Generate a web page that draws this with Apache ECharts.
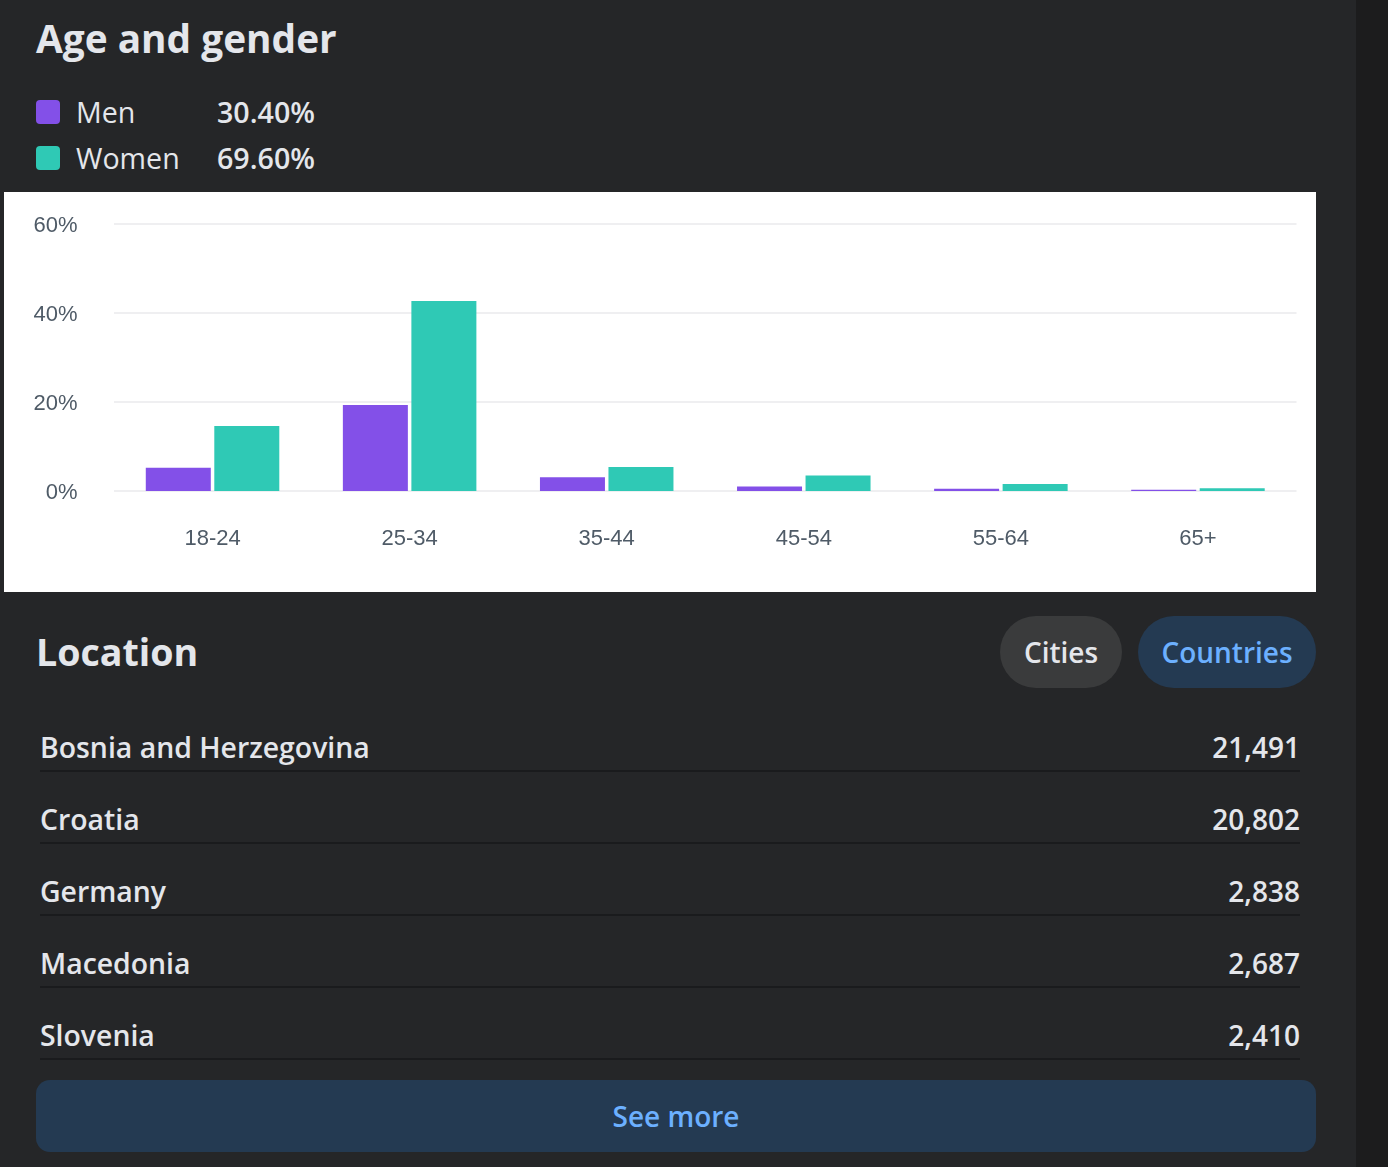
<!DOCTYPE html>
<html><head><meta charset="utf-8">
<script src="https://cdn.jsdelivr.net/npm/echarts@6/dist/echarts.min.js"></script>
<style>
html,body{margin:0;padding:0;width:1388px;height:1167px;overflow:hidden;background:#252628;font-family:"Open Sans","Noto Sans",sans-serif;color:#e4e6eb}
.t{position:absolute;white-space:nowrap;line-height:1}
#strip{position:absolute;left:1356px;top:0;width:32px;height:1167px;background:#1c1c1d}
#chart{position:absolute;left:4px;top:192px;width:1312px;height:400px;background:#fff}
.sw{position:absolute;left:36px;width:24px;height:24px;border-radius:4px}
.pill{position:absolute;top:616px;height:72px;border-radius:36px}
.rule{position:absolute;left:40px;width:1260px;height:2px;background:#1a1b1d}
</style></head><body>
<div id="strip"></div>
<div id="page"></div>
<div id="chart"></div>
<script>
const categories=['18-24','25-34','35-44','45-54','55-64','65+'];
const men=[5.2,19.3,3.1,1.0,0.5,0.3];
const women=[14.6,42.7,5.4,3.5,1.6,0.6];
const yTicks=[0,20,40,60];
const legendNames=['Men','Women'];
const legendValues=['30.40%','69.60%'];
const legendColors=['#8350e8','#2fc9b5'];
const places=['Bosnia and Herzegovina','Croatia','Germany','Macedonia','Slovenia'];
const placeValues=['21,491','20,802','2,838','2,687','2,410'];

const page=document.getElementById('page');
function add(html){page.insertAdjacentHTML('beforeend',html)}
function text(s,x,cy,size,weight,color,align){
  const pos=align==='right'?`right:${1388-x}px`:align==='center'?`left:${x}px;transform:translate(-50%,-50%)`:`left:${x}px`;
  const tf=align==='center'?'':';transform:translateY(-50%)';
  add(`<div class="t" style="${pos};top:${cy}px;font-size:${size}px;font-weight:${weight};color:${color}${tf}">${s}</div>`);
}
text('Age and gender',36,37.5,38.8,700,'#e4e6eb');
legendNames.forEach((n,i)=>{
  const cy=112+46*i;
  add(`<div class="sw" style="top:${cy-12}px;background:${legendColors[i]}"></div>`);
  text(n,76,cy,28.6,400,'#e4e6eb');
  text(legendValues[i],217,cy,28.6,600,'#e4e6eb');
});
text('Location',36,651.5,37.6,700,'#e4e6eb');
add('<div class="pill" style="left:1000px;width:122px;background:#3a3b3c"></div>');
add('<div class="pill" style="left:1138px;width:178px;background:#243a52"></div>');
text('Cities',1061,652,28,600,'#e4e6eb','center');
text('Countries',1227,652,28,600,'#6cb0ff','center');
places.forEach((p,i)=>{
  const cy=747+72*i;
  text(p,40,cy,28.4,600,'#e4e6eb');
  text(placeValues[i],1300,cy,28,600,'#e4e6eb','right');
  add(`<div class="rule" style="top:${cy+23}px"></div>`);
});
add('<div style="position:absolute;left:36px;top:1080px;width:1280px;height:72px;border-radius:14px;background:#243a52"></div>');
text('See more',676,1116,28,600,'#6cb0ff','center');

const chart=echarts.init(document.getElementById('chart'),null,{renderer:'canvas'});
const fontLabel={color:'#4f5b67',fontFamily:'"Liberation Sans",Arial,sans-serif',fontSize:22};
chart.setOption({
  animation:false,
  backgroundColor:'#fff',
  grid:{left:110,right:19.5,top:32,bottom:101,containLabel:false},
  xAxis:{type:'category',data:categories,
    axisLine:{show:false},axisTick:{show:false},
    axisLabel:Object.assign({margin:36.5},fontLabel)},
  yAxis:{type:'value',min:yTicks[0],max:yTicks[yTicks.length-1],interval:20,
    axisLine:{show:false},axisTick:{show:false},
    splitLine:{lineStyle:{color:'#efeff1',width:2}},
    axisLabel:Object.assign({margin:36.5,formatter:v=>`{v|${v}%}`,
      rich:{v:Object.assign({padding:[3,0,0,0]},fontLabel)}},fontLabel)},
  series:[
    {name:legendNames[0],type:'bar',data:men,barWidth:65,barGap:'5.4%',itemStyle:{color:legendColors[0]}},
    {name:legendNames[1],type:'bar',data:women,barWidth:65,itemStyle:{color:legendColors[1]}}
  ]
});
</script>
</body></html>
